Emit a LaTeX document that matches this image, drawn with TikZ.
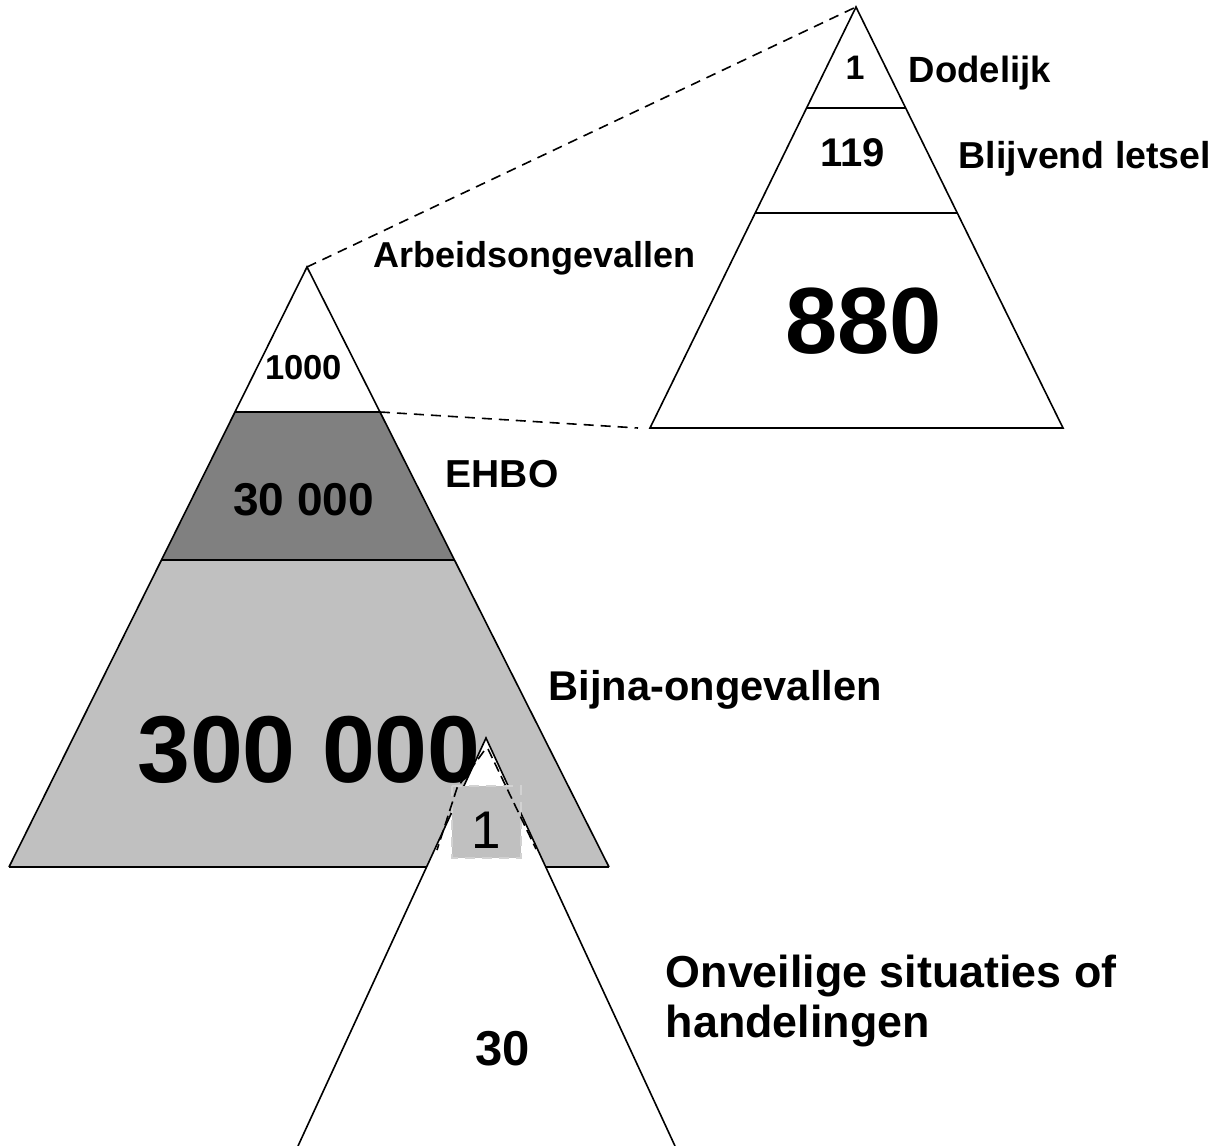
\documentclass[tikz,border=0pt]{standalone}
\usepackage{fontspec}
\setmainfont{Liberation Sans}
\definecolor{darkband}{HTML}{808080}
\definecolor{lightband}{HTML}{C0C0C0}
\begin{document}
\begin{tikzpicture}[x=0.5pt,y=-0.5pt,line width=0.8pt,line join=miter,
    num/.style={inner sep=0pt,anchor=base,font=\bfseries},
    lbl/.style={inner sep=0pt,anchor=base west,font=\bfseries}]
    \useasboundingbox (0,0) rectangle (1211,1146);

    % big pyramid
    \coordinate (top) at (307,267);
    \coordinate (l1) at (235,412);
    \coordinate (r1) at (380,412);
    \coordinate (l2) at (161.5,560);
    \coordinate (r2) at (454.5,560);
    \coordinate (bl) at (9,867);
    \coordinate (br) at (609,867);
    \fill[white] (top) -- (r1) -- (l1) -- cycle;
    \fill[darkband] (l1) -- (r1) -- (r2) -- (l2) -- cycle;
    \fill[lightband] (l2) -- (r2) -- (br) -- (bl) -- cycle;
    \draw (bl) -- (top) -- (br);
    \draw (l1) -- (r1);
    \draw (l2) -- (r2);
    \draw[line width=1.1pt] (bl) -- (br);

    % upper pyramid
    \coordinate (utop) at (856,7);
    \coordinate (ul1) at (806.6,108);
    \coordinate (ur1) at (905.7,108);
    \coordinate (ul2) at (755,213);
    \coordinate (ur2) at (957,213);
    \coordinate (ubl) at (650,428);
    \coordinate (ubr) at (1063,428);
    \draw (ubl) -- (utop) -- (ubr) -- cycle;
    \draw (ul1) -- (ur1);
    \draw (ul2) -- (ur2);

    % zoom lines
    \coordinate (zend) at (638,428);
    \draw[dash pattern=on 5pt off 3.5pt] (top) -- (utop);
    \draw[dash pattern=on 5pt off 3.5pt] (r1) -- (zend);

    \node[num,font=\bfseries\fontsize{17}{20}\selectfont] (n1) at (855,79) {1};
    \node[num,font=\bfseries\fontsize{20}{24}\selectfont] (n119) at (852.5,166) {119};
    \node[num,font=\bfseries\fontsize{47}{56}\selectfont] (n880) at (863.5,353) {880};
    \node[num,font=\bfseries\fontsize{17.3}{21}\selectfont] (n1000) at (303.5,379) {1000};
    \node[num,font=\bfseries\fontsize{23}{28}\selectfont] (n30000) at (303.5,515) {30 000};
    \node[num,font=\bfseries\fontsize{47.5}{57}\selectfont] (n300000) at (309,782) {300 000};

    % lower pyramid
    \coordinate (btop) at (486,738);
    \coordinate (bbl) at (298,1146);
    \coordinate (bbr) at (675,1146);
    \fill[white] (bbl) -- (btop) -- (bbr) -- cycle;
    \draw (bbl) -- (btop) -- (bbr);
    \draw[dash pattern=on 5pt off 3.5pt,fill=lightband,draw=gray!35]
        (452,786) rectangle (521,858);
    \node[inner sep=0pt,anchor=base,font=\fontsize{26.5}{32}\selectfont] (nb1) at (486.5,848) {1};
    \draw[dash pattern=on 5pt off 2.5pt] (484,751) -- (457,788) -- (437,850);
    \draw[dash pattern=on 5pt off 2.5pt] (488,749) -- (536,849);
    \node[num,font=\bfseries\fontsize{24.5}{29}\selectfont] (n30) at (502.5,1065) {30};

    % labels
    \node[lbl,font=\bfseries\fontsize{18.25}{22}\selectfont] (dod) at (908,82) {Dodelijk};
    \node[lbl,font=\bfseries\fontsize{18.75}{22}\selectfont] (blij) at (958,168) {Blijvend letsel};
    \node[lbl,font=\bfseries\fontsize{18}{22}\selectfont] (arb) at (373,267) {Arbeidsongevallen};
    \node[lbl,font=\bfseries\fontsize{19.5}{23}\selectfont] (ehbo) at (445,487) {EHBO};
    \node[lbl,font=\bfseries\fontsize{20.8}{25}\selectfont] (bijna) at (548,700) {Bijna-ongevallen};
    \node[lbl,font=\bfseries\fontsize{22.4}{25}\selectfont] (onv1) at (665,987) {Onveilige situaties of};
    \node[lbl,font=\bfseries\fontsize{22.4}{25}\selectfont] (onv2) at (665,1037) {handelingen};
\end{tikzpicture}
\end{document}
